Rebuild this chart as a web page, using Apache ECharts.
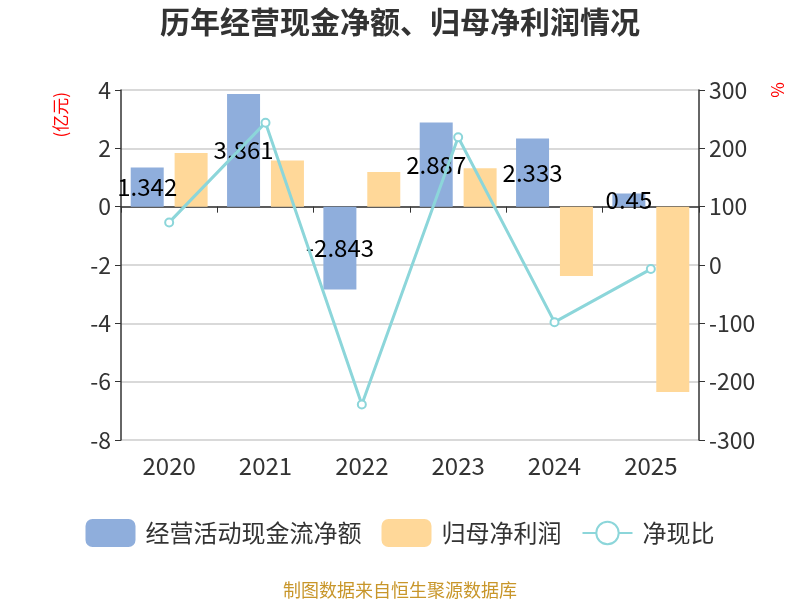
<!DOCTYPE html>
<html>
<head>
<meta charset="utf-8">
<script src="https://cdn.jsdelivr.net/npm/echarts@6/dist/echarts.min.js"></script>
<style>
  html, body { margin: 0; padding: 0; background: #fff; }
  #chart { width: 800px; height: 600px; }
</style>
</head>
<body>
<div id="chart"></div>
<script>
var years = ['2020', '2021', '2022', '2023', '2024', '2025'];
var cashFlow = [1.342, 3.861, -2.843, 2.887, 2.333, 0.45];
var netProfit = [1.84, 1.58, 1.19, 1.32, -2.38, -6.35];
var cashRatio = [73, 244, -239, 219, -98, -7];
var leftTicks = [-8, 4, 2];
var rightTicks = [-300, 300, 100];

var myChart = echarts.init(document.getElementById('chart'));
var font = '"Noto Sans CJK SC", "Noto Sans", sans-serif';

var option = {
    textStyle: { fontFamily: font },
    title: {
        text: '历年经营现金净额、归母净利润情况',
        left: 'center',
        top: 2,
        textStyle: { fontSize: 30, fontWeight: 'bold', color: '#333', fontFamily: font }
    },
    legend: {
        bottom: 48,
        left: 'center',
        itemWidth: 50,
        itemHeight: 28,
        itemGap: 20,
        textStyle: { fontSize: 24, color: '#333', padding: [0, 0, 0, 5] },
        data: [
            { name: '经营活动现金流净额', icon: 'roundRect' },
            { name: '归母净利润', icon: 'roundRect' },
            { name: '净现比' }
        ]
    },
    grid: { left: 121, right: 101, top: 90, bottom: 160 },
    xAxis: [
        {
            type: 'category',
            data: years,
            axisLine: { onZero: true, lineStyle: { color: '#333', width: 1.5 } },
            axisTick: { show: true, length: 6, lineStyle: { color: '#333' } },
            axisLabel: { show: false }
        },
        {
            type: 'category',
            data: years,
            position: 'bottom',
            axisLine: { show: false },
            axisTick: { show: false },
            axisLabel: { fontSize: 24, color: '#333', margin: 14 }
        }
    ],
    yAxis: [
        {
            type: 'value',
            min: leftTicks[0], max: leftTicks[1], interval: leftTicks[2],
            axisLine: { show: true, lineStyle: { color: '#333', width: 1.5 } },
            axisTick: { show: true, length: 6 },
            axisLabel: { fontSize: 23, color: '#333', margin: 10 },
            splitLine: { lineStyle: { color: '#ccc', width: 1.5 } }
        },
        {
            type: 'value',
            min: rightTicks[0], max: rightTicks[1], interval: rightTicks[2],
            axisLine: { show: true, lineStyle: { color: '#333', width: 1.5 } },
            axisTick: { show: true, length: 6 },
            axisLabel: { fontSize: 23, color: '#333', margin: 10 },
            splitLine: { show: false }
        }
    ],
    graphic: [
        {
            type: 'text', left: 52, top: 92, rotation: Math.PI / 2,
            style: { text: '(亿元)', fill: '#f00', font: '17px ' + font }
        },
        {
            type: 'text', left: 769, top: 82, rotation: Math.PI / 2,
            style: { text: '%', fill: '#f00', font: '17px ' + font }
        },
        {
            type: 'text', left: 'center', bottom: 1,
            style: { text: '制图数据来自恒生聚源数据库', fill: '#c8962a', font: '18px ' + font }
        }
    ],
    series: [
        {
            name: '经营活动现金流净额',
            type: 'bar',
            data: cashFlow,
            barWidth: 33,
            barGap: '33%',
            itemStyle: { color: '#8faedc' },
            label: { show: true, position: 'inside', color: '#000', fontSize: 24 }
        },
        {
            name: '归母净利润',
            type: 'bar',
            data: netProfit,
            barWidth: 33,
            barGap: '33%',
            itemStyle: { color: '#ffd899' }
        },
        {
            name: '净现比',
            type: 'line',
            yAxisIndex: 1,
            data: cashRatio,
            symbol: 'emptyCircle',
            symbolSize: 8,
            lineStyle: { color: '#8cd6da', width: 3 },
            itemStyle: { color: '#8cd6da', borderWidth: 2 }
        }
    ]
};

myChart.setOption(option);
</script>
</body>
</html>
